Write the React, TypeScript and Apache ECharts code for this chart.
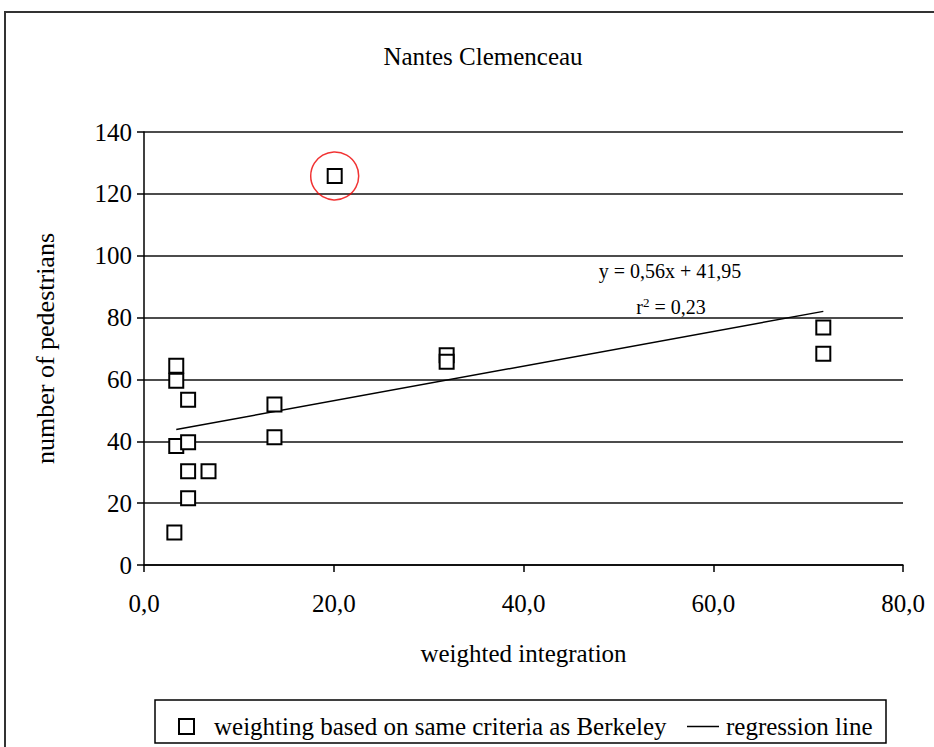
import React, { useEffect, useRef } from "react";
import * as echarts from "echarts";

const titleText = "Nantes Clemenceau";
const xAxisName = "weighted integration";
const yAxisName = "number of pedestrians";
const seriesName = "weighting based on same criteria as Berkeley";
const lineName = "regression line";

const xValues = [3.4, 3.4, 4.65, 13.75, 3.4, 4.65, 13.75, 4.65, 6.8, 4.65, 3.2, 20.1, 31.9, 31.9, 71.6, 71.6];
const yValues = [64.4, 59.6, 53.4, 51.9, 38.5, 39.7, 41.3, 30.3, 30.3, 21.6, 10.5, 125.8, 67.8, 65.7, 76.8, 68.3];
const outlierIndex = 11;
const regressionX = [3.4, 71.6];
const regressionY = [43.8, 82.0];
const equationText = "y = 0,56x + 41,95";
const r2Value = "0,23";

const FONT = "Liberation Serif";

export default function App() {
  const ref = useRef<HTMLDivElement>(null);
  useEffect(() => {
    document.body.style.margin = "0";
    if (!ref.current) return;
    const chart = echarts.init(ref.current, null, { renderer: "svg" });
    const points = xValues.map((x, i) => [x, yValues[i]]);
    const line = regressionX.map((x, i) => [x, regressionY[i]]);
    const fmt = (v: number) => v.toFixed(1).replace(".", ",");
    chart.setOption({
      animation: false,
      backgroundColor: "#fff",
      title: {
        text: titleText,
        left: 478,
        top: 39,
        textAlign: "center",
        textStyle: { fontFamily: FONT, fontSize: 25, fontWeight: "normal", color: "#000" },
      },
      grid: { left: 144, top: 132, right: 31, bottom: 182 },
      xAxis: {
        type: "value",
        min: 0,
        max: 80,
        interval: 20,
        name: xAxisName,
        nameLocation: "middle",
        nameGap: 76,
        nameTextStyle: { fontFamily: FONT, fontSize: 25, color: "#000", verticalAlign: "top" },
        axisLine: { show: true, onZero: false, lineStyle: { color: "#000", width: 1.5 } },
        axisTick: { show: true, length: 7, lineStyle: { color: "#000", width: 1.5 } },
        axisLabel: { fontFamily: FONT, fontSize: 25, color: "#000", margin: 26, formatter: fmt },
        splitLine: { show: false },
      },
      yAxis: {
        type: "value",
        min: 0,
        max: 140,
        interval: 20,
        name: yAxisName,
        nameLocation: "middle",
        nameGap: 86,
        nameTextStyle: { fontFamily: FONT, fontSize: 26, color: "#000" },
        axisLine: { show: true, lineStyle: { color: "#000", width: 1.5 } },
        axisTick: { show: true, length: 7, lineStyle: { color: "#000", width: 1.5 } },
        axisLabel: { fontFamily: FONT, fontSize: 25, color: "#000", margin: 12 },
        splitLine: { show: true, lineStyle: { color: "#111", width: 1.5 } },
      },
      legend: [
        {
          data: [seriesName],
          left: 178,
          top: 714,
          itemWidth: 15,
          itemHeight: 15,
          padding: 0,
          textStyle: { fontFamily: FONT, fontSize: 25, color: "#000", padding: [0, 0, 0, 15] },
        },
        {
          data: [{ name: lineName, icon: "rect" }],
          left: 687,
          top: 714,
          itemWidth: 32,
          itemHeight: 1.5,
          padding: 0,
          itemStyle: { color: "#000" },
          textStyle: { fontFamily: FONT, fontSize: 25, color: "#000", padding: [0, 0, 0, 2] },
        },
      ],
      graphic: [
        {
          type: "rect",
          shape: { x: 5, y: 12, width: 1000, height: 1000 },
          style: { fill: "none", stroke: "#333", lineWidth: 2 },
          silent: true,
        },
        {
          type: "rect",
          shape: { x: 155, y: 700, width: 731, height: 43 },
          style: { fill: "none", stroke: "#000", lineWidth: 1.5 },
          silent: true,
        },
        {
          type: "text",
          x: 670,
          y: 271,
          style: {
            text: equationText,
            fontFamily: FONT,
            fontSize: 20,
            fill: "#000",
            align: "center",
            verticalAlign: "middle",
          },
        },
        {
          type: "text",
          x: 671,
          y: 307,
          style: {
            text: "{a|r}{sup|2}{a| = " + r2Value + "}",
            fontFamily: FONT,
            fontSize: 20,
            fill: "#000",
            align: "center",
            verticalAlign: "middle",
            rich: {
              a: { fontFamily: FONT, fontSize: 20, fill: "#000" },
              sup: { fontFamily: FONT, fontSize: 13, fill: "#000", verticalAlign: "top", padding: [0, 0, 10, 0] },
            },
          },
        },
      ],
      series: [
        {
          name: seriesName,
          type: "scatter",
          symbol: "rect",
          symbolSize: 14,
          data: points,
          itemStyle: { color: "#fff", borderColor: "#000", borderWidth: 2, opacity: 1 },
          z: 3,
        },
        {
          name: lineName,
          type: "line",
          data: line,
          symbol: "none",
          itemStyle: { color: "#000" },
          lineStyle: { color: "#000", width: 1.5 },
          z: 2,
        },
        {
          name: "outlier",
          type: "scatter",
          symbol: "circle",
          symbolSize: 48,
          data: [points[outlierIndex]],
          itemStyle: { color: "rgba(0,0,0,0)", borderColor: "#e00", borderWidth: 1.5 },
          z: 4,
          silent: true,
        },
      ],
    });
    return () => chart.dispose();
  }, []);
  return <div ref={ref} style={{ width: 934, height: 747 }} />;
}
